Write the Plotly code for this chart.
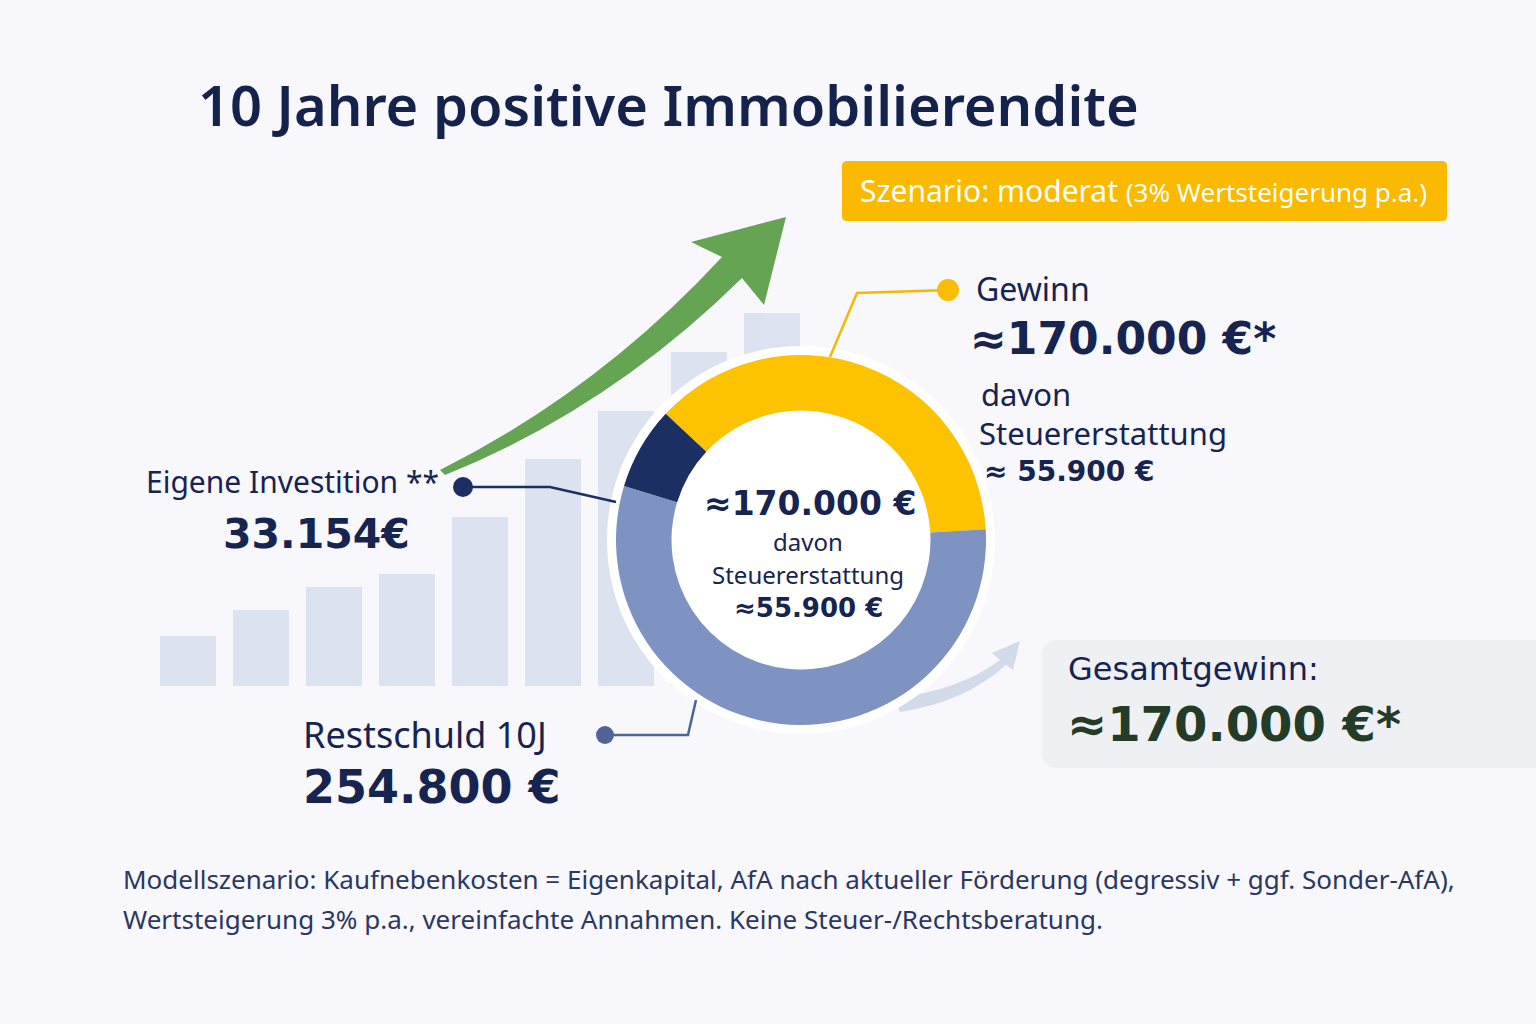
import plotly.graph_objects as go

W, H = 1536, 1024

# ---------------- data ----------------
title_text = "10 Jahre positive Immobilierendite"
scenario_main = "Szenario: moderat"
scenario_sub = "(3% Wertsteigerung p.a.)"

donut_labels = ["Gewinn", "Restschuld 10J", "Eigene Investition"]
donut_values = [170000, 254800, 33154]
donut_colors = ["#fdc200", "#7f93c3", "#1b2f63"]

bar_years = [1, 2, 3, 4, 5, 6, 7, 8, 9]
bar_values = [7.3, 11.1, 14.4, 16.3, 24.6, 33.1, 40.1, 48.7, 54.4]

gewinn_label = "Gewinn"
gewinn_value = "≈170.000 €*"
steuer_value = "≈ 55.900 €"
center_value = "≈170.000 €"
center_steuer = "≈55.900 €"
invest_label = "Eigene Investition **"
invest_value = "33.154€"
rest_label = "Restschuld 10J"
rest_value = "254.800 €"
total_label = "Gesamtgewinn:"
total_value = "≈170.000 €*"
foot_lines = [
    "Modellszenario: Kaufnebenkosten = Eigenkapital, AfA nach aktueller Förderung (degressiv + ggf. Sonder-AfA),",
    "Wertsteigerung 3% p.a., vereinfachte Annahmen. Keine Steuer-/Rechtsberatung.",
]

NAVY = "#17244f"
LABEL_FONT = "Noto Sans"
NUM_FONT = "DejaVu Sans"


def X(px):
    return px / W


def Y(py):
    return 1 - py / H


def pth(cmds):
    out = []
    for c in cmds:
        if isinstance(c, str):
            out.append(c)
        else:
            out.append(f"{X(c[0]):.5f},{Y(c[1]):.5f}")
    return " ".join(out)


fig = go.Figure()

# background bars
fig.add_trace(go.Bar(
    x=bar_years, y=bar_values, width=0.76,
    marker=dict(color="#d8dfed", line=dict(width=0)),
    opacity=0.85, hoverinfo="skip", showlegend=False,
))

# donut: white rim + ring
cx, cy, R = 801, 540, 185
rim = 194
fig.add_trace(go.Pie(
    values=[1], marker=dict(colors=["#ffffff"], line=dict(width=0)),
    domain=dict(x=[X(cx - rim), X(cx + rim)], y=[Y(cy + rim), Y(cy - rim)]),
    textinfo="none", hoverinfo="skip", showlegend=False, sort=False,
))
fig.add_trace(go.Pie(
    labels=donut_labels, values=donut_values, hole=0.70,
    marker=dict(colors=donut_colors, line=dict(width=0)),
    domain=dict(x=[X(cx - R), X(cx + R)], y=[Y(cy + R), Y(cy - R)]),
    direction="clockwise", sort=False, rotation=-47,
    textinfo="none", hoverinfo="label+value", showlegend=False,
))

shapes = []
# soft swoosh arrow behind donut
shapes.append(dict(type="path", xref="paper", yref="paper", layer="below",
                   path=pth(["M", (895, 698), "Q", (960, 690), (1000, 660), "L", (992, 653),
                             "L", (1020, 641), "L", (1013, 670), "L", (1006, 665),
                             "Q", (965, 702), (900, 712), "Z"]),
                   fillcolor="#d3dbea", line=dict(width=0)))
# green growth arrow
shapes.append(dict(type="path", xref="paper", yref="paper", layer="above",
                   path=pth(["M", (440, 470), "Q", (598, 391), (722, 257), "L", (691, 242),
                             "L", (786, 217), "L", (764, 305), "L", (742, 278),
                             "Q", (609, 409), (445, 475), "Z"]),
                   fillcolor="#5c9f4a", line=dict(width=0), opacity=0.95))
# scenario badge
bx0, by0, bx1, by1, r = 842, 161, 1447, 221, 5
shapes.append(dict(type="path", xref="paper", yref="paper", layer="below",
                   path=pth(["M", (bx0 + r, by0), "L", (bx1 - r, by0), "Q", (bx1, by0), (bx1, by0 + r),
                             "L", (bx1, by1 - r), "Q", (bx1, by1), (bx1 - r, by1),
                             "L", (bx0 + r, by1), "Q", (bx0, by1), (bx0, by1 - r),
                             "L", (bx0, by0 + r), "Q", (bx0, by0), (bx0 + r, by0), "Z"]),
                   fillcolor="#fbb900", line=dict(width=0)))
# total box
gx0, gy0, gx1, gy1, r = 1042, 640, 1560, 768, 16
shapes.append(dict(type="path", xref="paper", yref="paper", layer="below",
                   path=pth(["M", (gx0 + r, gy0), "L", (gx1, gy0), "L", (gx1, gy1),
                             "L", (gx0 + r, gy1), "Q", (gx0, gy1), (gx0, gy1 - r),
                             "L", (gx0, gy0 + r), "Q", (gx0, gy0), (gx0 + r, gy0), "Z"]),
                   fillcolor="#eef0f4", line=dict(width=0)))
# leader lines
shapes.append(dict(type="path", xref="paper", yref="paper", layer="above",
                   path=pth(["M", (948, 290), "L", (857, 293), "L", (830, 357)]),
                   line=dict(color="#f5b800", width=2.5)))
shapes.append(dict(type="path", xref="paper", yref="paper", layer="above",
                   path=pth(["M", (463, 487), "L", (550, 487), "L", (616, 502)]),
                   line=dict(color="#1b2f63", width=2.5)))
shapes.append(dict(type="path", xref="paper", yref="paper", layer="above",
                   path=pth(["M", (605, 735), "L", (688, 735), "L", (696, 700)]),
                   line=dict(color="#4f639a", width=2.5)))


def dot(px, py, rad, color):
    return dict(type="circle", xref="paper", yref="paper", layer="above",
                x0=X(px - rad), x1=X(px + rad), y0=Y(py + rad), y1=Y(py - rad),
                fillcolor=color, line=dict(width=0))


shapes.append(dot(948, 290, 11, "#fcbd00"))
shapes.append(dot(463, 487, 10, "#1b2f63"))
shapes.append(dot(605, 735, 9, "#4f639a"))

annotations = []


def txt(s, px, py, size, color=NAVY, family=LABEL_FONT, weight=400, anchor="left"):
    annotations.append(dict(text=s, x=X(px), y=Y(py), xref="paper", yref="paper",
                            xanchor=anchor, yanchor="middle", showarrow=False,
                            font=dict(size=size, color=color, family=family, weight=weight)))


txt(title_text, 196, 104, 56, color="#15224c", weight=600)
txt(f"{scenario_main} <span style='font-size:26px'>{scenario_sub}</span>", 858, 190, 30, color="#ffffff")

txt(gewinn_label, 974, 288, 32)
txt(gewinn_value, 968, 338, 44, family=NUM_FONT, weight=700)
txt("davon", 979, 394, 31)
txt("Steuererstattung", 977, 433, 31)
txt(steuer_value, 982, 471, 28, family=NUM_FONT, weight=700)

txt(center_value, 810, 503, 33, family=NUM_FONT, weight=700, anchor="center")
txt("davon", 808, 541, 24, anchor="center")
txt("Steuererstattung", 808, 574, 24, anchor="center")
txt(center_steuer, 808, 608, 26, family=NUM_FONT, weight=700, anchor="center")

txt(invest_label, 144, 481, 30)
txt(invest_value, 221, 534, 41, family=NUM_FONT, weight=700)

txt(rest_label, 301, 734, 36)
txt(rest_value, 301, 787, 46, family=NUM_FONT, weight=700)

txt(total_label, 1066, 669, 32, family=NUM_FONT, weight=400)
txt(total_value, 1065, 724, 48, color="#243b27", family=NUM_FONT, weight=700)

txt(foot_lines[0], 121, 879, 26, color="#2b3760")
txt(foot_lines[1], 121, 919, 26, color="#2b3760")

# axes mapping: bar year -> px (year 1 at 188 px, 73 px per year); bar base at 686 px
x_lo = 1 + (0 - 188) / 73
x_hi = 1 + (W - 188) / 73
fig.update_layout(
    width=W, height=H,
    margin=dict(l=0, r=0, t=0, b=0),
    paper_bgcolor="#f8f7fb", plot_bgcolor="rgba(0,0,0,0)",
    xaxis=dict(domain=[0, 1], range=[x_lo, x_hi], visible=False, fixedrange=True),
    yaxis=dict(domain=[Y(686), 1], range=[0, 100], visible=False, fixedrange=True),
    shapes=shapes, annotations=annotations,
    bargap=0, showlegend=False,
)

fig.write_html(
    "out.html",
    config={"displayModeBar": False},
    post_script="document.body.style.margin='0';document.body.style.overflow='hidden';",
)
